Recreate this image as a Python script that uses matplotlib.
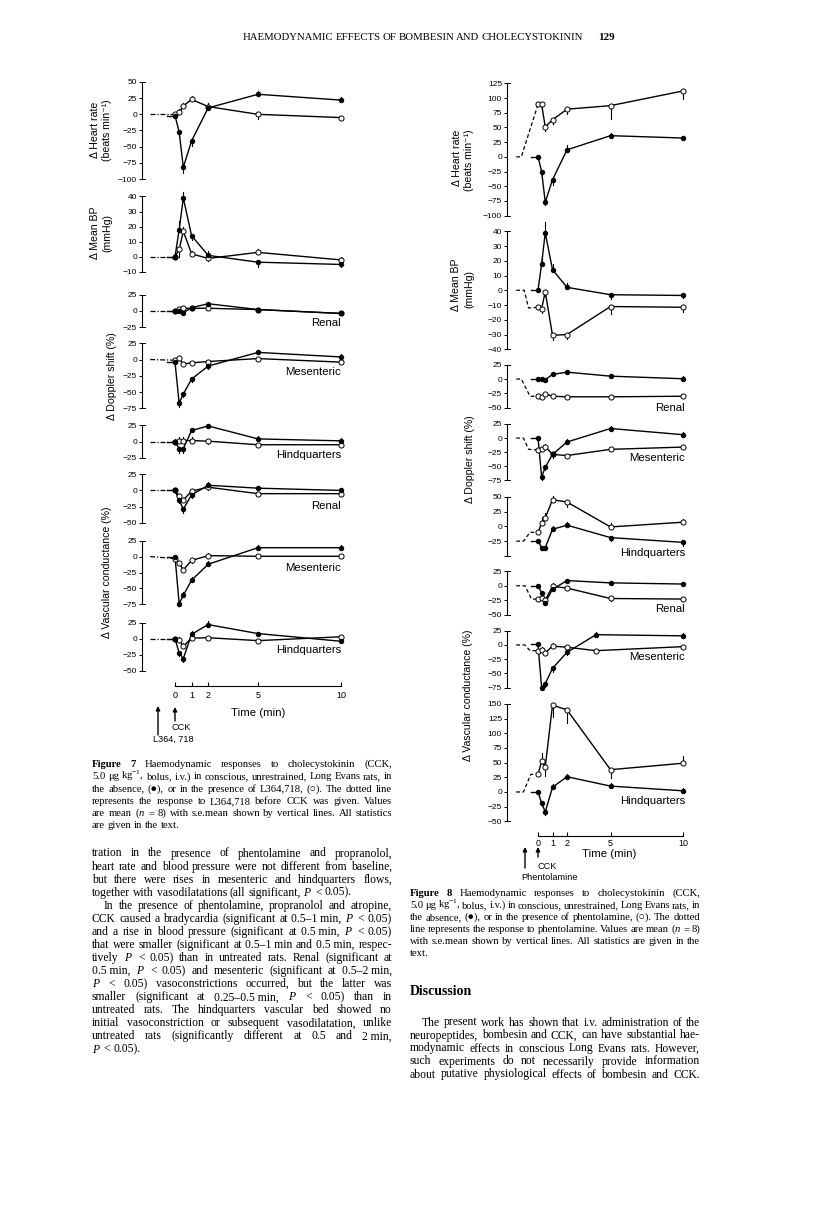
import matplotlib
matplotlib.use("Agg")
import matplotlib.pyplot as plt
from matplotlib.patches import FancyArrowPatch

W, H = 816, 1210
SERIF = ["Liberation Serif", "DejaVu Serif", "DejaVu Sans"]
SANS = ["Liberation Sans", "DejaVu Sans"]
plt.rcParams.update({
    "font.family": SERIF,
    "mathtext.fontset": "custom",
    "mathtext.rm": "Liberation Serif",
    "mathtext.it": "Liberation Serif:italic",
    "mathtext.bf": "Liberation Serif:bold",
    "axes.unicode_minus": True,
})

# ------------------------------------------------------------------ data
TIME = [0, 0.25, 0.5, 1, 2, 5, 10]
TIME_F8_MESVC = [0, 0.25, 0.5, 1, 2, 4, 10]
TIME_TICKS = [0, 1, 2, 5, 10]

# Figure 7 : CCK alone (filled) vs CCK + L364,718 (open)
F7_HR_CCK = [-2, -27, -82, -41, 10, 31, 22]
F7_HR_L364 = [0, 3, 13, 23, 12, 0, -5]
F7_BP_CCK = [0, 18, 39, 14, 1, -3.5, -5]
F7_BP_L364 = [0, 5, 17, 2, -1, 3, -2]
F7_RD_CCK = [0, 0, -3, 5, 11, 2, -4]
F7_RD_L364 = [0, 3, 4, 4, 4, 2, -4]
F7_MD_CCK = [-4, -67, -53, -30, -10, 11, 4]
F7_MD_L364 = [-1, 2, -7, -5, -3, 1.5, -4]
F7_HD_CCK = [0, -11, -11, 17, 24, 4, 1]
F7_HD_L364 = [0, 1.5, 1.5, 1.5, 0.5, -5, -5]
F7_RV_CCK = [0, -15, -29, -7, 8, 3.5, 0]
F7_RV_L364 = [0, -9, -15, -1, 5, -5, -5]
F7_MV_CCK = [0, -74, -61, -37, -12, 14, 14]
F7_MV_L364 = [-3, -10, -21, -6, 1.5, 0.5, 0.5]
F7_HV_CCK = [0, -22, -31, 7, 22, 8, -4]
F7_HV_L364 = [0, -2, -12, 1, 1.5, -3, 3]

# s.e.mean (sign = direction of the drawn line)
F7_HR_CCK_SE = [3, -6, -8, -8, 7, 5, 5]
F7_HR_L364_SE = [0, 5, 5, 6, 6, -7, -3]
F7_BP_CCK_SE = [0, 6, 4, -3, 3, -3, -2]
F7_BP_L364_SE = [0, -5, 3, 2, -2, 2, 2]
F7_RD_CCK_SE = [0, 0, -3, 3, 3, 2, 2]
F7_RD_L364_SE = [0, 3, 3, 2, 2, 2, 2]
F7_MD_CCK_SE = [-3, -6, -5, -5, -5, 4, 4]
F7_MD_L364_SE = [0, 4, 3, 3, 3, 3, 3]
F7_HD_CCK_SE = [-3, -6, -6, 4, 3, 4, 4]
F7_HD_L364_SE = [4, 5, 5, 5, -5, -4, -3]
F7_RV_CCK_SE = [-3, -5, -6, -4, 5, 4, 4]
F7_RV_L364_SE = [0, 3, 4, 3, -4, -3, -3]
F7_MV_CCK_SE = [-2, -4, 5, 5, 5, 4, 4]
F7_MV_L364_SE = [0, -3, -3, -4, 4, 3, 2]
F7_HV_CCK_SE = [0, -5, -5, 5, 5, 3, 3]
F7_HV_L364_SE = [0, 5, 5, 3, 3, -3, 3]

# Figure 8 : CCK alone (filled) vs CCK + phentolamine (open)
F8_HR_CCK = [0, -25, -77, -39, 12, 36, 32]
F8_HR_PHEN = [89, 89, 51, 63, 81, 87, 112]
F8_BP_CCK = [0, 18, 39, 14, 2, -3, -3.5]
F8_BP_PHEN = [-11.5, -12.5, -1, -30.5, -30, -11, -11.5]
F8_RD_CCK = [0, 0, -1, 8, 12, 5, 0.5]
F8_RD_PHEN = [-30, -31, -26, -30, -31, -31, -30]
F8_MD_CCK = [1, -69, -52, -29, -7, 17, 6]
F8_MD_PHEN = [-21, -19, -15, -29, -31, -20, -16]
F8_HD_CCK = [-24, -36, -36, -5, 2, -19, -27]
F8_HD_PHEN = [-10, 5, 14, 45, 41, -1, 7]
F8_RV_CCK = [0, -12, -29, -6, 9, 5, 3]
F8_RV_PHEN = [-23, -22, -25, -1, -4, -22, -23]
F8_MV_CCK = [1, -75, -68, -41, -13, 18, 16]
F8_MV_PHEN = [-10, -8, -14, -2, -4, -10, -3]
F8_HV_CCK = [0, -19, -34, 8, 26, 10, 2]
F8_HV_PHEN = [30, 52, 43, 148, 140, 38, 49]

F8_HR_CCK_SE = [0, -6, -5, -8, 8, 5, 4]
F8_HR_PHEN_SE = [0, -8, -7, -8, -9, -22, -14]
F8_BP_CCK_SE = [0, 5, 7, 4, 3, -3, -2]
F8_BP_PHEN_SE = [0, -3, -3, -3, -3, -5, -3]
F8_RD_CCK_SE = [0, 2, -2, 3, 3, 3, 4]
F8_RD_PHEN_SE = [-2, -2, 3, -2, -2, -2, -2]
F8_MD_CCK_SE = [0, -5, -5, -6, 5, 5, 5]
F8_MD_PHEN_SE = [0, -4, 4, 4, -3, -3, 3]
F8_HD_CCK_SE = [-3, -4, -4, 5, 5, -5, -6]
F8_HD_PHEN_SE = [0, 10, 8, 6, -8, 6, 5]
F8_RV_CCK_SE = [0, -5, -5, 5, 3, 3, 3]
F8_RV_PHEN_SE = [0, -3, -3, 5, -4, -4, -3]
F8_MV_CCK_SE = [0, -3, -5, -6, -5, 5, 5]
F8_MV_PHEN_SE = [-3, 4, -4, 5, -4, -3, -3]
F8_HV_CCK_SE = [0, -5, -5, 6, 5, 5, 4]
F8_HV_PHEN_SE = [0, 15, -15, -20, -22, -15, 13]

# pre-CCK period (dotted / dashed line = response to the antagonist)
F7_PRE_T = [-1.5, 0]
F8_HR_PRE_T, F8_HR_PRE = [-1.5, -1.15, 0], [0, 0, 89]
F8_BP_PRE_T, F8_BP_PRE = [-1.5, -0.95, -0.65, 0], [0, 0, -12, -11.5]
F8_RD_PRE_T, F8_RD_PRE = [-1.5, -1.15, -0.55, 0], [0, 0, -30, -30]
F8_MD_PRE_T, F8_MD_PRE = [-1.5, -1.0, -0.65, 0], [0, 0, -20, -21]
F8_HD_PRE_T, F8_HD_PRE = [-1.5, -1.0, -0.55, 0], [-25, -25, -10, -10]
F8_RV_PRE_T, F8_RV_PRE = [-1.5, -0.9, -0.45, 0], [0, 0, -23, -23]
F8_MV_PRE_T, F8_MV_PRE = [-1.5, -0.9, -0.55, 0], [0, 0, -10, -10]
F8_HV_PRE_T, F8_HV_PRE = [-1.5, -1.0, -0.5, 0], [0, 0, 30, 30]
CCK_PRE_T = -0.5

# ------------------------------------------------------------------ figure
fig = plt.figure(figsize=(W / 100, H / 100), dpi=100)
fig.patch.set_facecolor("white")
renderer = fig.canvas.get_renderer()


def fx(x):
    return x / W


def fy(y):
    return 1 - y / H


def fmt(v):
    return ("\u2212" + str(abs(v))) if v < 0 else str(v)


def make_panel(x0, x1, ytop, ybot, ylim, yticks, t0px, ppm, blank=()):
    ax = fig.add_axes([fx(x0), fy(ybot), (x1 - x0) / W, (ybot - ytop) / H])
    ax.set_xlim((x0 - t0px) / ppm, (x1 - t0px) / ppm)
    ax.set_ylim(ylim[0], ylim[1])
    for s in ("top", "right", "bottom"):
        ax.spines[s].set_visible(False)
    ax.spines["left"].set_linewidth(0.8)
    ax.set_xticks([])
    ax.set_yticks(yticks)
    ax.set_yticklabels(["" if v in blank else fmt(v) for v in yticks],
                       fontfamily=SANS)
    ax.tick_params(axis="y", direction="out", length=2.3, width=0.7,
                   pad=1.3, labelsize=6.0)
    ax.patch.set_alpha(0)
    cap = 3.0 / (x1 - x0)
    for yy in ylim:
        ax.plot([0, cap], [yy, yy], transform=ax.get_yaxis_transform(),
                color="k", lw=0.7, clip_on=False)
    return ax


def draw_series(ax, t, v, se, filled):
    ax.plot(t, v, color="k", lw=1.0, zorder=3, clip_on=False)
    for ti, vi, si in zip(t, v, se):
        if si:
            ax.plot([ti, ti], [vi, vi + si], color="k", lw=0.8, zorder=2,
                    clip_on=False)
    ax.plot(t, v, ls="none", marker="o", ms=3.2 if filled else 3.7,
            mfc="k" if filled else "white", mec="k", mew=0.7, zorder=4,
            clip_on=False)


def draw_pair(ax, t, cck, cck_se, other, other_se, pre_t, pre_v, pre_style):
    ax.plot(pre_t, pre_v, color="k", lw=0.9, ls=pre_style, zorder=2,
            clip_on=False)
    ax.plot([CCK_PRE_T, t[0]], [cck[0], cck[0]], color="k", lw=1.0, zorder=2)
    draw_series(ax, t, other, other_se, False)
    draw_series(ax, t, cck, cck_se, True)


def time_axis(x0, x1, yline, t0px, ppm, pad):
    ax = fig.add_axes([fx(x0), fy(yline), (x1 - x0) / W, 8 / H])
    ax.set_xlim((x0 - t0px) / ppm, (x1 - t0px) / ppm)
    for s in ("top", "right", "left"):
        ax.spines[s].set_visible(False)
    ax.spines["bottom"].set_bounds(TIME_TICKS[0], TIME_TICKS[-1])
    ax.spines["bottom"].set_linewidth(0.8)
    ax.set_yticks([])
    ax.set_xticks(TIME_TICKS)
    ax.set_xticklabels([str(v) for v in TIME_TICKS], fontfamily=SANS)
    ax.tick_params(axis="x", direction="in", length=3.0, width=0.8,
                   pad=pad, labelsize=6.5)
    ax.patch.set_alpha(0)
    return ax


def ftext(x, y, s, **kw):
    kw.setdefault("family", SANS)
    return fig.text(fx(x), fy(y), s, **kw)


def arrow(x, ybot, ytop):
    fig.add_artist(FancyArrowPatch((fx(x), fy(ybot)), (fx(x), fy(ytop)),
                                   transform=fig.transFigure,
                                   arrowstyle="-|>", mutation_scale=6,
                                   lw=1.0, color="k", shrinkA=0, shrinkB=0))


def jline(s, x0, x1, yc, size, just=True, family=SERIF):
    em = size * 100 / 72
    yb = yc + 0.3 * em
    words = s.split(" ")
    objs = []
    for w in words:
        kw = dict(fontsize=size, family=family, ha="left", va="baseline")
        if w.startswith("\u00a7"):
            w = w[1:]
            kw["fontweight"] = "bold"
        objs.append(fig.text(0, 0, w, **kw))
    widths = [o.get_window_extent(renderer).width for o in objs]
    total = sum(widths)
    n = len(objs)
    if just and n > 1:
        gap = (x1 - x0 - total) / (n - 1)
        if gap < 0.2 * em:
            scale = (x1 - x0 - (n - 1) * 0.2 * em) / total
            for o in objs:
                o.set_fontsize(o.get_fontsize() * scale)
            widths = [o.get_window_extent(renderer).width for o in objs]
            gap = (x1 - x0 - sum(widths)) / (n - 1)
    else:
        gap = 0.25 * em
    x = x0
    for o, w in zip(objs, widths):
        o.set_position((fx(x), fy(yb)))
        x += w + gap


# ------------------------------------------------------------------ Figure 7
F7_X0, F7_X1, F7_T0, F7_PPM = 142, 346, 175, 16.6
dd = (0, (4, 1.5, 1, 1.5))
f7 = [
    (82, 179, (-100, 50), list(range(50, -101, -25)), F7_HR_CCK, F7_HR_CCK_SE, F7_HR_L364, F7_HR_L364_SE, None),
    (196.5, 272, (-10, 40), list(range(40, -11, -10)), F7_BP_CCK, F7_BP_CCK_SE, F7_BP_L364, F7_BP_L364_SE, None),
    (294.7, 327, (-25, 25), [25, 0, -25], F7_RD_CCK, F7_RD_CCK_SE, F7_RD_L364, F7_RD_L364_SE, ("Renal", 323)),
    (343.3, 408.3, (-75, 25), [25, 0, -25, -50, -75], F7_MD_CCK, F7_MD_CCK_SE, F7_MD_L364, F7_MD_L364_SE, ("Mesenteric", 371.7)),
    (425.3, 457.7, (-25, 25), [25, 0, -25], F7_HD_CCK, F7_HD_CCK_SE, F7_HD_L364, F7_HD_L364_SE, ("Hindquarters", 455)),
    (474.3, 522.7, (-50, 25), [25, 0, -25, -50], F7_RV_CCK, F7_RV_CCK_SE, F7_RV_L364, F7_RV_L364_SE, ("Renal", 505.7)),
    (540.7, 604.3, (-75, 25), [25, 0, -25, -50, -75], F7_MV_CCK, F7_MV_CCK_SE, F7_MV_L364, F7_MV_L364_SE, ("Mesenteric", 567.7)),
    (622.7, 670.7, (-50, 25), [25, 0, -25, -50], F7_HV_CCK, F7_HV_CCK_SE, F7_HV_L364, F7_HV_L364_SE, ("Hindquarters", 650)),
]
for ytop, ybot, ylim, ticks, cck, cse, oth, ose, lab in f7:
    ax = make_panel(F7_X0, F7_X1, ytop, ybot, ylim, ticks, F7_T0, F7_PPM)
    draw_pair(ax, TIME, cck, cse, oth, ose, F7_PRE_T, [0, oth[0]], dd)
    if lab:
        ftext(341, lab[1], lab[0], fontsize=8.2, ha="right", va="center")

time_axis(F7_X0, F7_X1, 685.7, F7_T0, F7_PPM, pad=3.6)
ftext(258, 712.7, "Time (min)", fontsize=8.2, ha="center", va="center")
arrow(158, 735, 706)
arrow(175, 721, 707)
ftext(172, 727, "CCK", fontsize=6.6, ha="left", va="center")
ftext(153, 739, "L364, 718", fontsize=6.6, ha="left", va="center")

ftext(95, 130, "\u0394 Heart rate", fontsize=7.6, rotation=90, ha="center", va="center")
ftext(107, 130, "(beats min\u207b\u00b9)", fontsize=7.6, rotation=90, ha="center", va="center")
ftext(95, 233, "\u0394 Mean BP", fontsize=7.6, rotation=90, ha="center", va="center")
ftext(107, 233, "(mmHg)", fontsize=7.6, rotation=90, ha="center", va="center")
ftext(112, 376, "\u0394 Doppler shift (%)", fontsize=7.6, rotation=90, ha="center", va="center")
ftext(107, 572, "\u0394 Vascular conductance (%)", fontsize=7.6, rotation=90, ha="center", va="center")

# ------------------------------------------------------------------ Figure 8
F8_X0, F8_X1, F8_T0, F8_PPM = 507, 690, 538, 14.5
dsh = (0, (3, 2))
f8 = [
    (83.3, 215.7, (-100, 125), list(range(125, -101, -25)), TIME, F8_HR_CCK, F8_HR_CCK_SE, F8_HR_PHEN, F8_HR_PHEN_SE, F8_HR_PRE_T, F8_HR_PRE, None, ()),
    (231.3, 349.3, (-40, 40), list(range(40, -41, -10)), TIME, F8_BP_CCK, F8_BP_CCK_SE, F8_BP_PHEN, F8_BP_PHEN_SE, F8_BP_PRE_T, F8_BP_PRE, None, ()),
    (364.7, 407.7, (-50, 25), [25, 0, -25, -50], TIME, F8_RD_CCK, F8_RD_CCK_SE, F8_RD_PHEN, F8_RD_PHEN_SE, F8_RD_PRE_T, F8_RD_PRE, ("Renal", 407.7), ()),
    (424, 480.3, (-75, 25), [25, 0, -25, -50, -75], TIME, F8_MD_CCK, F8_MD_CCK_SE, F8_MD_PHEN, F8_MD_PHEN_SE, F8_MD_PRE_T, F8_MD_PRE, ("Mesenteric", 458.3), ()),
    (496.7, 556, (-50, 50), [50, 25, 0, -25, -50], TIME, F8_HD_CCK, F8_HD_CCK_SE, F8_HD_PHEN, F8_HD_PHEN_SE, F8_HD_PRE_T, F8_HD_PRE, ("Hindquarters", 553.3), (-50,)),
    (571.3, 614.7, (-50, 25), [25, 0, -25, -50], TIME, F8_RV_CCK, F8_RV_CCK_SE, F8_RV_PHEN, F8_RV_PHEN_SE, F8_RV_PRE_T, F8_RV_PRE, ("Renal", 609.3), ()),
    (630.7, 687.7, (-75, 25), [25, 0, -25, -50, -75], TIME_F8_MESVC, F8_MV_CCK, F8_MV_CCK_SE, F8_MV_PHEN, F8_MV_PHEN_SE, F8_MV_PRE_T, F8_MV_PRE, ("Mesenteric", 657.3), ()),
    (704, 821.3, (-50, 150), list(range(150, -51, -25)), TIME, F8_HV_CCK, F8_HV_CCK_SE, F8_HV_PHEN, F8_HV_PHEN_SE, F8_HV_PRE_T, F8_HV_PRE, ("Hindquarters", 800.7), ()),
]
for ytop, ybot, ylim, ticks, tt, cck, cse, oth, ose, pt, pv, lab, blank in f8:
    ax = make_panel(F8_X0, F8_X1, ytop, ybot, ylim, ticks, F8_T0, F8_PPM, blank)
    draw_pair(ax, tt, cck, cse, oth, ose, pt, pv, dsh)
    if lab:
        ftext(685, lab[1], lab[0], fontsize=8.2, ha="right", va="center")

time_axis(F8_X0, F8_X1, 836, F8_T0, F8_PPM, pad=1.8)
ftext(609, 854.3, "Time (min)", fontsize=8.2, ha="center", va="center")
arrow(525, 868, 847)
arrow(538, 857, 847)
ftext(537, 866.3, "CCK", fontsize=6.6, ha="left", va="center")
ftext(521.5, 877, "Phentolamine", fontsize=6.6, ha="left", va="center")

ftext(457, 158, "\u0394 Heart rate", fontsize=7.6, rotation=90, ha="center", va="center")
ftext(469, 160, "(beats min\u207b\u00b9)", fontsize=7.6, rotation=90, ha="center", va="center")
ftext(456, 285, "\u0394 Mean BP", fontsize=7.6, rotation=90, ha="center", va="center")
ftext(469, 289, "(mmHg)", fontsize=7.6, rotation=90, ha="center", va="center")
ftext(470, 459, "\u0394 Doppler shift (%)", fontsize=7.6, rotation=90, ha="center", va="center")
ftext(468, 695, "\u0394 Vascular conductance (%)", fontsize=7.6, rotation=90, ha="center", va="center")

# ------------------------------------------------------------------ page text
jline("HAEMODYNAMIC EFFECTS OF BOMBESIN AND CHOLECYSTOKININ", 243, 583, 37, 8.2)
jline("\u00a7129", 598, 640, 37, 8.0, just=False)

cap7 = [
    "\u00a7Figure \u00a77 Haemodynamic responses to cholecystokinin (CCK,",
    "5.0 \u03bcg kg$^{-1}$, bolus, i.v.) in conscious, unrestrained, Long Evans rats, in",
    "the absence, (\u25cf), or in the presence of L364,718, (\u25cb). The dotted line",
    "represents the response to L364,718 before CCK was given. Values",
    "are mean ($n$ = 8) with s.e.mean shown by vertical lines. All statistics",
    "are given in the text.",
]
for i, s in enumerate(cap7):
    jline(s, 92, 392, 764 + i * 12.2, 7.7, just=(i < len(cap7) - 1))

body7 = [
    ("tration in the presence of phentolamine and propranolol,", True, 0),
    ("heart rate and blood pressure were not different from baseline,", True, 0),
    ("but there were rises in mesenteric and hindquarters flows,", True, 0),
    ("together with vasodilatations (all significant, $P$ < 0.05).", False, 0),
    ("In the presence of phentolamine, propranolol and atropine,", True, 12),
    ("CCK caused a bradycardia (significant at 0.5\u20131\u00a0min, $P$ < 0.05)", True, 0),
    ("and a rise in blood pressure (significant at 0.5\u00a0min, $P$ < 0.05)", True, 0),
    ("that were smaller (significant at 0.5\u20131\u00a0min and 0.5\u00a0min, respec-", True, 0),
    ("tively $P$ < 0.05) than in untreated rats. Renal (significant at", True, 0),
    ("0.5\u00a0min, $P$ < 0.05) and mesenteric (significant at 0.5\u20132\u00a0min,", True, 0),
    ("$P$ < 0.05) vasoconstrictions occurred, but the latter was", True, 0),
    ("smaller (significant at 0.25\u20130.5\u00a0min, $P$ < 0.05) than in", True, 0),
    ("untreated rats. The hindquarters vascular bed showed no", True, 0),
    ("initial vasoconstriction or subsequent vasodilatation, unlike", True, 0),
    ("untreated rats (significantly different at 0.5 and 2\u00a0min,", True, 0),
    ("$P$ < 0.05).", False, 0),
]
for i, (s, j, ind) in enumerate(body7):
    jline(s, 92 + ind, 392, 853 + i * 13.07, 8.4, just=j)

cap8 = [
    "\u00a7Figure \u00a78 Haemodynamic responses to cholecystokinin (CCK,",
    "5.0 \u03bcg kg$^{-1}$, bolus, i.v.) in conscious, unrestrained, Long Evans rats, in",
    "the absence, (\u25cf), or in the presence of phentolamine, (\u25cb). The dotted",
    "line represents the response to phentolamine. Values are mean ($n$ = 8)",
    "with s.e.mean shown by vertical lines. All statistics are given in the",
    "text.",
]
for i, s in enumerate(cap8):
    jline(s, 410, 700, 893 + i * 12.0, 7.7, just=(i < len(cap8) - 1))

jline("\u00a7Discussion", 410, 700, 991, 10.0, just=False)

body8 = [
    ("The present work has shown that i.v. administration of the", 12),
    ("neuropeptides, bombesin and CCK, can have substantial hae-", 0),
    ("modynamic effects in conscious Long Evans rats. However,", 0),
    ("such experiments do not necessarily provide information", 0),
    ("about putative physiological effects of bombesin and CCK.", 0),
]
for i, (s, ind) in enumerate(body8):
    jline(s, 410 + ind, 700, 1022 + i * 13.0, 8.4)

fig.savefig("out.png", dpi=100, facecolor="white")
